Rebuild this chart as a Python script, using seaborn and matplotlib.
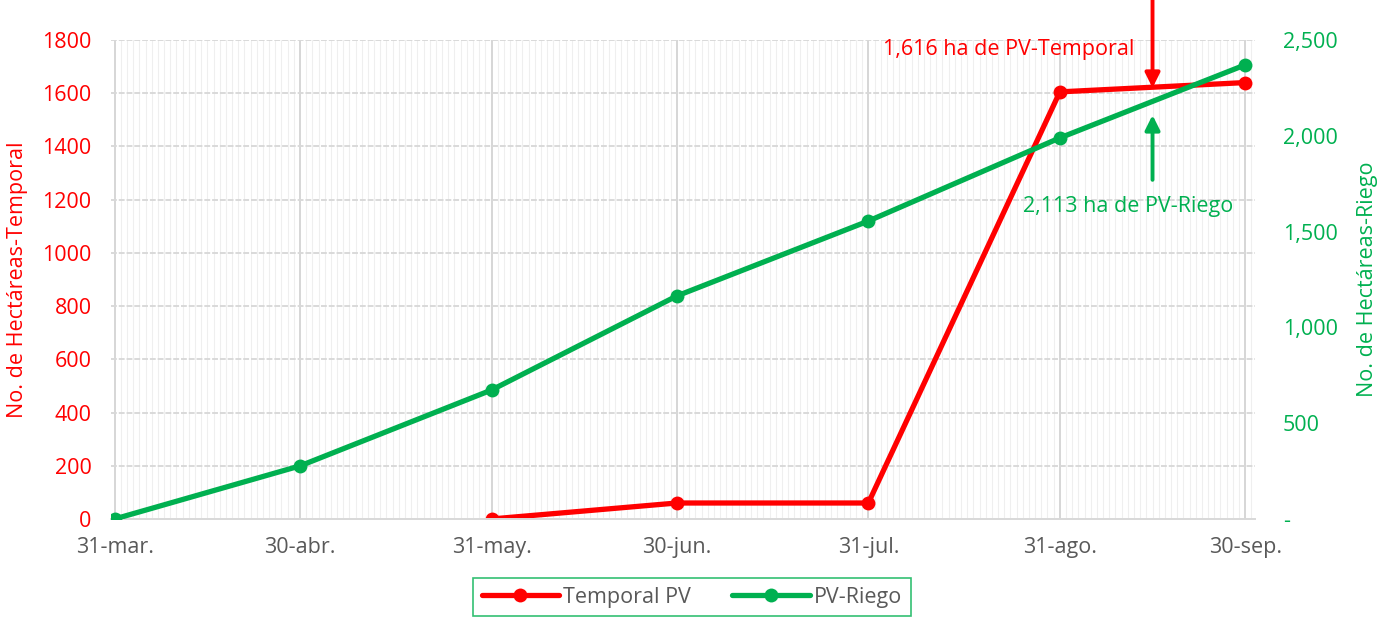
import matplotlib
matplotlib.use("Agg")
import matplotlib.pyplot as plt
import matplotlib.dates as mdates
import seaborn as sns
import pandas as pd
import numpy as np

# ---- data ----
fechas = ["2023-03-31", "2023-04-30", "2023-05-31", "2023-06-30",
          "2023-07-31", "2023-08-31", "2023-09-30"]
etiquetas_x = ["31-mar.", "30-abr.", "31-may.", "30-jun.", "31-jul.", "31-ago.", "30-sep."]
temporal_fechas = ["2023-05-31", "2023-06-30", "2023-07-31", "2023-08-31", "2023-09-30"]
temporal_pv = [0, 60, 60, 1605, 1640]
riego_fechas = fechas
pv_riego = [0, 277, 673, 1164, 1555, 1989, 2370]
izq_ticks = [0, 200, 400, 600, 800, 1000, 1200, 1400, 1600, 1800]
der_ticks = [0, 500, 1000, 1500, 2000, 2500]
der_etiquetas = ["-", "500", "1,000", "1,500", "2,000", "2,500"]

RED = "#ff0000"
GREEN = "#00b050"
GRAY = "#595959"
FS = 15.5

sns.set_style("white")
plt.rcParams['font.family'] = ['Open Sans', 'DejaVu Sans']

df_t = pd.DataFrame({"fecha": pd.to_datetime(temporal_fechas), "v": temporal_pv})
df_r = pd.DataFrame({"fecha": pd.to_datetime(riego_fechas), "v": pv_riego})

fig = plt.figure(figsize=(13.83, 6.19), dpi=100)
ax = fig.add_axes([0.0803, 0.1616, 0.8272, 0.7738])
ax2 = ax.twinx()

sns.lineplot(data=df_t, x="fecha", y="v", ax=ax, color=RED, lw=3.8,
             marker="o", markersize=10, markeredgewidth=0, label="Temporal PV",
             legend=False, zorder=5)
sns.lineplot(data=df_r, x="fecha", y="v", ax=ax2, color=GREEN, lw=3.8,
             marker="o", markersize=10, markeredgewidth=0, label="PV-Riego",
             legend=False, zorder=5)

x0 = pd.Timestamp("2023-03-31") - pd.Timedelta(hours=14)
x1 = pd.Timestamp("2023-09-30") + pd.Timedelta(days=1.6)
ax.set_xlim(x0, x1)
ax.set_ylim(0, 1800)
ax2.set_ylim(0, 2500)

xt = pd.to_datetime(fechas)
ax.set_xticks(xt)
ax.set_xticklabels(etiquetas_x)
ax.xaxis.set_minor_locator(mdates.DayLocator())
ax.set_yticks(izq_ticks)
ax.set_yticklabels([str(v) for v in izq_ticks])
ax2.set_yticks(der_ticks)
ax2.set_yticklabels(der_etiquetas)

ax.grid(which="minor", axis="x", color="#efefef", lw=0.8)
ax.grid(which="major", axis="x", color="#d0d0d0", lw=1.2)
ax.grid(which="major", axis="y", color="#d9d9d9", lw=1.4, ls=(0, (3, 1)))
ax.set_axisbelow(True)
ax2.grid(False)

for a in (ax, ax2):
    for s in ["top", "right", "left"]:
        a.spines[s].set_visible(False)
    a.spines["bottom"].set_color("#d9d9d9")
    a.spines["bottom"].set_linewidth(1.4)

ax.tick_params(axis="x", which="major", length=6, color="#d0d0d0", colors=GRAY,
               labelsize=FS, pad=7)
ax.tick_params(axis="x", which="minor", length=0)
ax.tick_params(axis="y", length=0, labelcolor=RED, labelsize=FS, pad=14)
ax2.tick_params(axis="y", length=0, labelcolor=GREEN, labelsize=FS, pad=20)
for lbl in ax.get_xticklabels():
    lbl.set_color(GRAY)

ax.set_xlabel("")
ax.set_ylabel("No. de Hectáreas-Temporal", color=RED, fontsize=FS, labelpad=10)
ax2.set_ylabel("No. de Hectáreas-Riego", color=GREEN, fontsize=FS, labelpad=14)

# annotations
fx = pd.Timestamp("2023-09-15")
ax.annotate("", xy=(fx, 1620), xytext=(fx, 2000), annotation_clip=False,
            arrowprops=dict(arrowstyle="-|>", color=RED, lw=2.8, mutation_scale=22,
                            shrinkA=0, shrinkB=0))
ax.text(pd.Timestamp("2023-09-12"), 1765, "1,616 ha de PV-Temporal", color=RED,
        fontsize=FS, ha="right", va="center")
ax2.annotate("", xy=(fx, 2108), xytext=(fx, 1770), annotation_clip=False,
             arrowprops=dict(arrowstyle="-|>", color=GREEN, lw=2.8, mutation_scale=22,
                             shrinkA=0, shrinkB=0))
ax2.text(pd.Timestamp("2023-09-11"), 1630, "2,113 ha de PV-Riego", color=GREEN,
         fontsize=FS, ha="center", va="center")

h1, l1 = ax.get_legend_handles_labels()
h2, l2 = ax2.get_legend_handles_labels()
leg = fig.legend(h1 + h2, l1 + l2, loc="center", bbox_to_anchor=(0.5003, 0.0355),
                 ncol=2, fontsize=FS, frameon=True, fancybox=False,
                 handlelength=3.6, handletextpad=0.2, columnspacing=1.9,
                 borderpad=0.4)
leg.get_frame().set_edgecolor(GREEN)
leg.get_frame().set_linewidth(1.2)
for t in leg.get_texts():
    t.set_color(GRAY)

fig.savefig("out.png", dpi=100)
